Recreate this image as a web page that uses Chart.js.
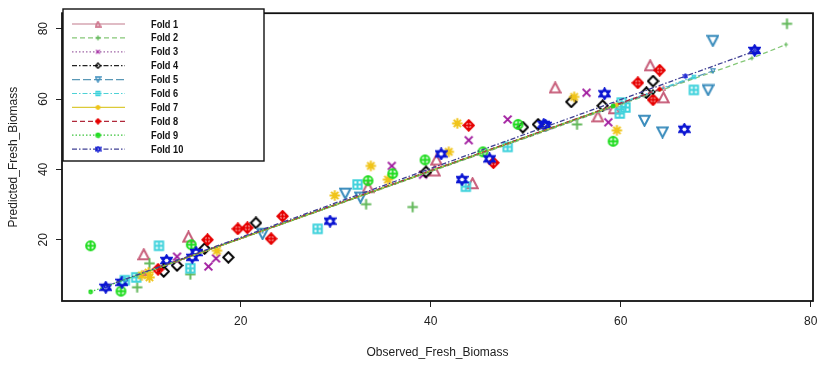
<!DOCTYPE html>
<html>
<head>
<meta charset="utf-8">
<script src="https://cdn.jsdelivr.net/npm/chart.js@4.4.0/dist/chart.umd.min.js"></script>
<style>
  html, body { margin: 0; padding: 0; background: #fff; }
</style>
</head>
<body>
<canvas id="chart" width="829" height="365"></canvas>
<script>
// Axis ticks
const xTicks = [20, 40, 60, 80];
const yTicks = [20, 40, 60, 80];
const foldNames = ['Fold 1', 'Fold 2', 'Fold 3', 'Fold 4', 'Fold 5', 'Fold 6', 'Fold 7', 'Fold 8', 'Fold 9', 'Fold 10'];

// Observed vs predicted, one list per fold  [observed, predicted]
const fold1 = [[53.1, 63.2], [63.1, 69.5], [64.5, 60.4], [57.6, 55.0], [59.3, 57.3], [33.4, 34.9], [40.4, 39.6], [44.4, 36.0], [40.6, 42.7], [14.5, 20.8], [9.8, 15.8]];
const fold2 = [[77.5, 81.4], [55.4, 52.8], [33.2, 30.1], [38.1, 29.3], [10.4, 13.3], [14.7, 10.2], [9.1, 6.5]];
const fold3 = [[56.4, 61.8], [58.7, 53.4], [44.0, 48.3], [48.1, 54.2], [35.9, 41.0], [39.2, 38.5], [17.4, 14.7], [16.6, 12.4], [13.3, 15.2]];
const fold4 = [[54.8, 59.2], [58.1, 58.1], [63.4, 65.1], [62.7, 61.8], [49.7, 52.0], [51.3, 52.8], [39.5, 39.3], [21.6, 24.8], [18.7, 15.0], [16.2, 17.5], [11.9, 11.0], [13.3, 12.7]];
const fold5 = [[69.7, 76.6], [69.2, 62.6], [62.5, 53.9], [64.4, 50.6], [31.0, 33.2], [32.6, 32.1], [22.3, 21.7]];
const fold6 = [[67.7, 62.6], [59.9, 55.9], [60.5, 57.6], [60.1, 59.0], [32.3, 35.7], [48.1, 46.4], [43.7, 35.1], [11.4, 18.3], [14.7, 11.9], [28.1, 23.1], [7.8, 8.5], [9.0, 9.3]];
const fold7 = [[55.1, 60.6], [59.6, 51.1], [42.8, 53.1], [41.9, 45.0], [33.7, 41.0], [35.5, 37.1], [29.9, 32.6], [10.4, 9.3], [17.5, 16.9], [9.6, 9.9], [10.3, 10.7]];
const fold8 = [[64.1, 68.2], [61.8, 64.6], [63.4, 59.8], [44.0, 52.5], [46.6, 41.9], [16.5, 20.0], [19.7, 23.1], [20.7, 23.4], [23.2, 20.3], [24.4, 26.7], [11.3, 11.6]];
const fold9 = [[4.2, 18.3], [14.8, 18.6], [7.4, 5.4], [59.2, 48.0], [49.2, 52.8], [39.4, 42.7], [36.0, 38.8], [33.4, 36.8], [45.5, 45.0]];
const fold10 = [[58.3, 61.5], [74.1, 73.8], [51.9, 52.8], [66.7, 51.4], [41.1, 44.4], [43.3, 37.1], [46.2, 43.0], [52.1, 52.5], [29.4, 25.3], [5.8, 6.5], [7.5, 7.9], [12.2, 14.1], [14.9, 15.0], [15.3, 16.4]];

// Fitted line of each fold  [observed, fitted]
const fit1 = [[9.8, 10.6], [64.5, 63.0]];
const fit2 = [[9.1, 9.9], [73.8, 71.6], [77.4, 75.5]];
const fit3 = [[13.3, 14.0], [58.7, 57.4]];
const fit4 = [[11.9, 12.6], [63.4, 62.0]];
const fit5 = [[22.3, 22.6], [69.7, 68.0]];
const fit6 = [[7.8, 8.7], [67.7, 66.3]];
const fit7 = [[9.6, 10.4], [59.6, 58.4]];
const fit8 = [[11.3, 12.1], [64.1, 62.8]];
const fit9 = [[4.2, 5.2], [59.2, 58.0]];
const fit10 = [[5.8, 6.8], [66.8, 66.5], [74.1, 73.6]];

const foldPoints = [fold1, fold2, fold3, fold4, fold5, fold6, fold7, fold8, fold9, fold10];
const foldFits = [fit1, fit2, fit3, fit4, fit5, fit6, fit7, fit8, fit9, fit10];

// Styles
const symbols = ['tri', 'plus', 'cross', 'diamond', 'triDown', 'squarePlus', 'asterisk', 'diamondPlus', 'circlePlus', 'david'];
const pointColors = ['#c8607c', '#62b85a', '#a21fa0', '#000000', '#3a8cbc', '#3fd2dc', '#f0c419', '#e60000', '#1edc1e', '#0a14d2'];
const lineColors = ['#c27a8c', '#86c878', '#a066a6', '#222222', '#5a98b6', '#4ed2d6', '#dcca38', '#b0283a', '#3cc43c', '#404094'];
const lineDashes = [[], [5, 3], [1.5, 2], [5, 2, 1.5, 2], [8, 3], [5, 2, 1.5, 2], [], [5, 3], [1.5, 2], [5, 2, 1.5, 2]];
const fontFam = '"Liberation Sans", Arial, sans-serif';

function makeSymbol(kind, color, size, lw) {
    const cv = document.createElement('canvas');
    cv.width = size; cv.height = size;
    const g = cv.getContext('2d');
    const c = size / 2;
    const e = lw / 2 + 0.3;           // inset so strokes stay inside
    const r = c - e;
    g.strokeStyle = color; g.fillStyle = color; g.lineWidth = lw;
    g.lineJoin = 'miter'; g.lineCap = 'butt';
    g.beginPath();
    switch (kind) {
        case 'tri':
            g.moveTo(c, e); g.lineTo(size - e, size * 0.86); g.lineTo(e, size * 0.86); g.closePath();
            break;
        case 'triDown':
            g.moveTo(c, size - e); g.lineTo(size - e, size * 0.14); g.lineTo(e, size * 0.14); g.closePath();
            break;
        case 'plus':
            g.moveTo(c, e); g.lineTo(c, size - e); g.moveTo(e, c); g.lineTo(size - e, c);
            break;
        case 'cross':
            g.moveTo(c - r * 0.75, c - r * 0.75); g.lineTo(c + r * 0.75, c + r * 0.75);
            g.moveTo(c + r * 0.75, c - r * 0.75); g.lineTo(c - r * 0.75, c + r * 0.75);
            break;
        case 'diamond':
            g.moveTo(c, e); g.lineTo(size - e, c); g.lineTo(c, size - e); g.lineTo(e, c); g.closePath();
            break;
        case 'squarePlus':
            g.rect(c - r * 0.8, c - r * 0.8, r * 1.6, r * 1.6);
            g.moveTo(c, c - r * 0.8); g.lineTo(c, c + r * 0.8); g.moveTo(c - r * 0.8, c); g.lineTo(c + r * 0.8, c);
            break;
        case 'asterisk':
            g.moveTo(c, e); g.lineTo(c, size - e); g.moveTo(e, c); g.lineTo(size - e, c);
            g.moveTo(c - r * 0.7, c - r * 0.7); g.lineTo(c + r * 0.7, c + r * 0.7);
            g.moveTo(c + r * 0.7, c - r * 0.7); g.lineTo(c - r * 0.7, c + r * 0.7);
            break;
        case 'diamondPlus':
            g.moveTo(c, e); g.lineTo(size - e, c); g.lineTo(c, size - e); g.lineTo(e, c); g.closePath();
            g.moveTo(c, e); g.lineTo(c, size - e); g.moveTo(e, c); g.lineTo(size - e, c);
            break;
        case 'circlePlus':
            g.arc(c, c, r * 0.85, 0, Math.PI * 2);
            g.moveTo(c, c - r * 0.85); g.lineTo(c, c + r * 0.85); g.moveTo(c - r * 0.85, c); g.lineTo(c + r * 0.85, c);
            break;
        case 'david':
            g.moveTo(c, e); g.lineTo(size - e, size * 0.72); g.lineTo(e, size * 0.72); g.closePath();
            g.moveTo(c, size - e); g.lineTo(size - e, size * 0.28); g.lineTo(e, size * 0.28); g.closePath();
            break;
    }
    g.stroke();
    return cv;
}

const bigSyms = symbols.map((s, i) => makeSymbol(s, pointColors[i], 13, 2));
const smallSyms = symbols.map((s, i) => makeSymbol(s, pointColors[i], 6, 1.1));
const legendSyms = symbols.map((s, i) => makeSymbol(s, pointColors[i], 7, 1.3));

const datasets = [];
foldPoints.forEach((pts, i) => {
    datasets.push({
        label: foldNames[i],
        data: pts.map(p => ({ x: p[0], y: p[1] })),
        pointStyle: bigSyms[i],
        pointRadius: 6,
        pointHoverRadius: 6,
        showLine: false,
        order: 30 - i
    });
});
foldFits.forEach((pts, i) => {
    datasets.push({
        label: foldNames[i] + ' fit',
        data: pts.map(p => ({ x: p[0], y: p[1] })),
        showLine: true,
        borderColor: lineColors[i],
        borderWidth: 1.3,
        borderDash: lineDashes[i],
        pointStyle: smallSyms[i],
        pointRadius: 3,
        pointHoverRadius: 3,
        order: 15 - i
    });
});

// Plot frame (R style box)
const boxPlugin = {
    id: 'box',
    afterDatasetsDraw(chart) {
        const { ctx, chartArea: a } = chart;
        ctx.save();
        ctx.strokeStyle = '#111';
        ctx.lineWidth = 1.8;
        ctx.strokeRect(a.left, a.top, a.right - a.left, a.bottom - a.top);
        ctx.restore();
    }
};

// Legend box in the top-left corner
const legendPlugin = {
    id: 'foldLegend',
    afterDraw(chart) {
        const ctx = chart.ctx;
        const bx = 63, by = 9, bw = 201, bh = 152;
        ctx.save();
        ctx.fillStyle = '#fff';
        ctx.fillRect(bx, by, bw, bh);
        ctx.strokeStyle = '#111';
        ctx.lineWidth = 1.4;
        ctx.strokeRect(bx, by, bw, bh);
        foldNames.forEach((name, i) => {
            const y = 24 + i * 13.9;
            ctx.strokeStyle = lineColors[i];
            ctx.lineWidth = 1.2;
            ctx.setLineDash(lineDashes[i]);
            ctx.beginPath();
            ctx.moveTo(72, y);
            ctx.lineTo(125, y);
            ctx.stroke();
            ctx.setLineDash([]);
            const s = legendSyms[i];
            ctx.drawImage(s, 98 - s.width / 2, y - s.height / 2);
            // narrow bold text, like the original
            ctx.save();
            ctx.translate(151, y + 0.5);
            ctx.scale(0.84, 1);
            ctx.fillStyle = '#111';
            ctx.font = 'bold 11px ' + fontFam;
            ctx.textAlign = 'left';
            ctx.textBaseline = 'middle';
            ctx.fillText(name, 0, 0);
            ctx.restore();
        });
        ctx.restore();
    }
};

const chart = new Chart(document.getElementById('chart'), {
    type: 'scatter',
    data: { datasets },
    options: {
        responsive: false,
        animation: false,
        events: [],
        layout: { padding: { left: 0, right: 16, top: 9, bottom: 0 } },
        plugins: {
            legend: { display: false },
            tooltip: { enabled: false }
        },
        scales: {
            x: {
                type: 'linear',
                min: 1.19,
                max: 80.24,
                afterBuildTicks: s => { s.ticks = xTicks.map(v => ({ value: v })); },
                afterFit: s => { s.height = 64; },
                grid: { drawOnChartArea: false, drawTicks: true, tickLength: 6, color: '#222' },
                border: { display: false },
                ticks: { color: '#222', font: { family: fontFam, size: 12 }, padding: 7, minRotation: 0, maxRotation: 0 },
                title: { display: true, text: 'Observed_Fresh_Biomass', color: '#222', font: { family: fontFam, size: 12 }, padding: { top: 0, bottom: 5 } }
            },
            y: {
                type: 'linear',
                min: 2.6,
                max: 84.4,
                afterBuildTicks: s => { s.ticks = yTicks.map(v => ({ value: v })); },
                afterFit: s => { s.width = 62; },
                grid: { drawOnChartArea: false, drawTicks: true, tickLength: 6, color: '#222' },
                border: { display: false },
                ticks: { color: '#222', font: { family: fontFam, size: 12 }, padding: 6, minRotation: 90, maxRotation: 90, crossAlign: 'center' },
                title: { display: true, text: 'Predicted_Fresh_Biomass', color: '#222', font: { family: fontFam, size: 12 }, padding: { top: 6, bottom: 0 } }
            }
        }
    },
    plugins: [boxPlugin, legendPlugin]
});
</script>
</body>
</html>
